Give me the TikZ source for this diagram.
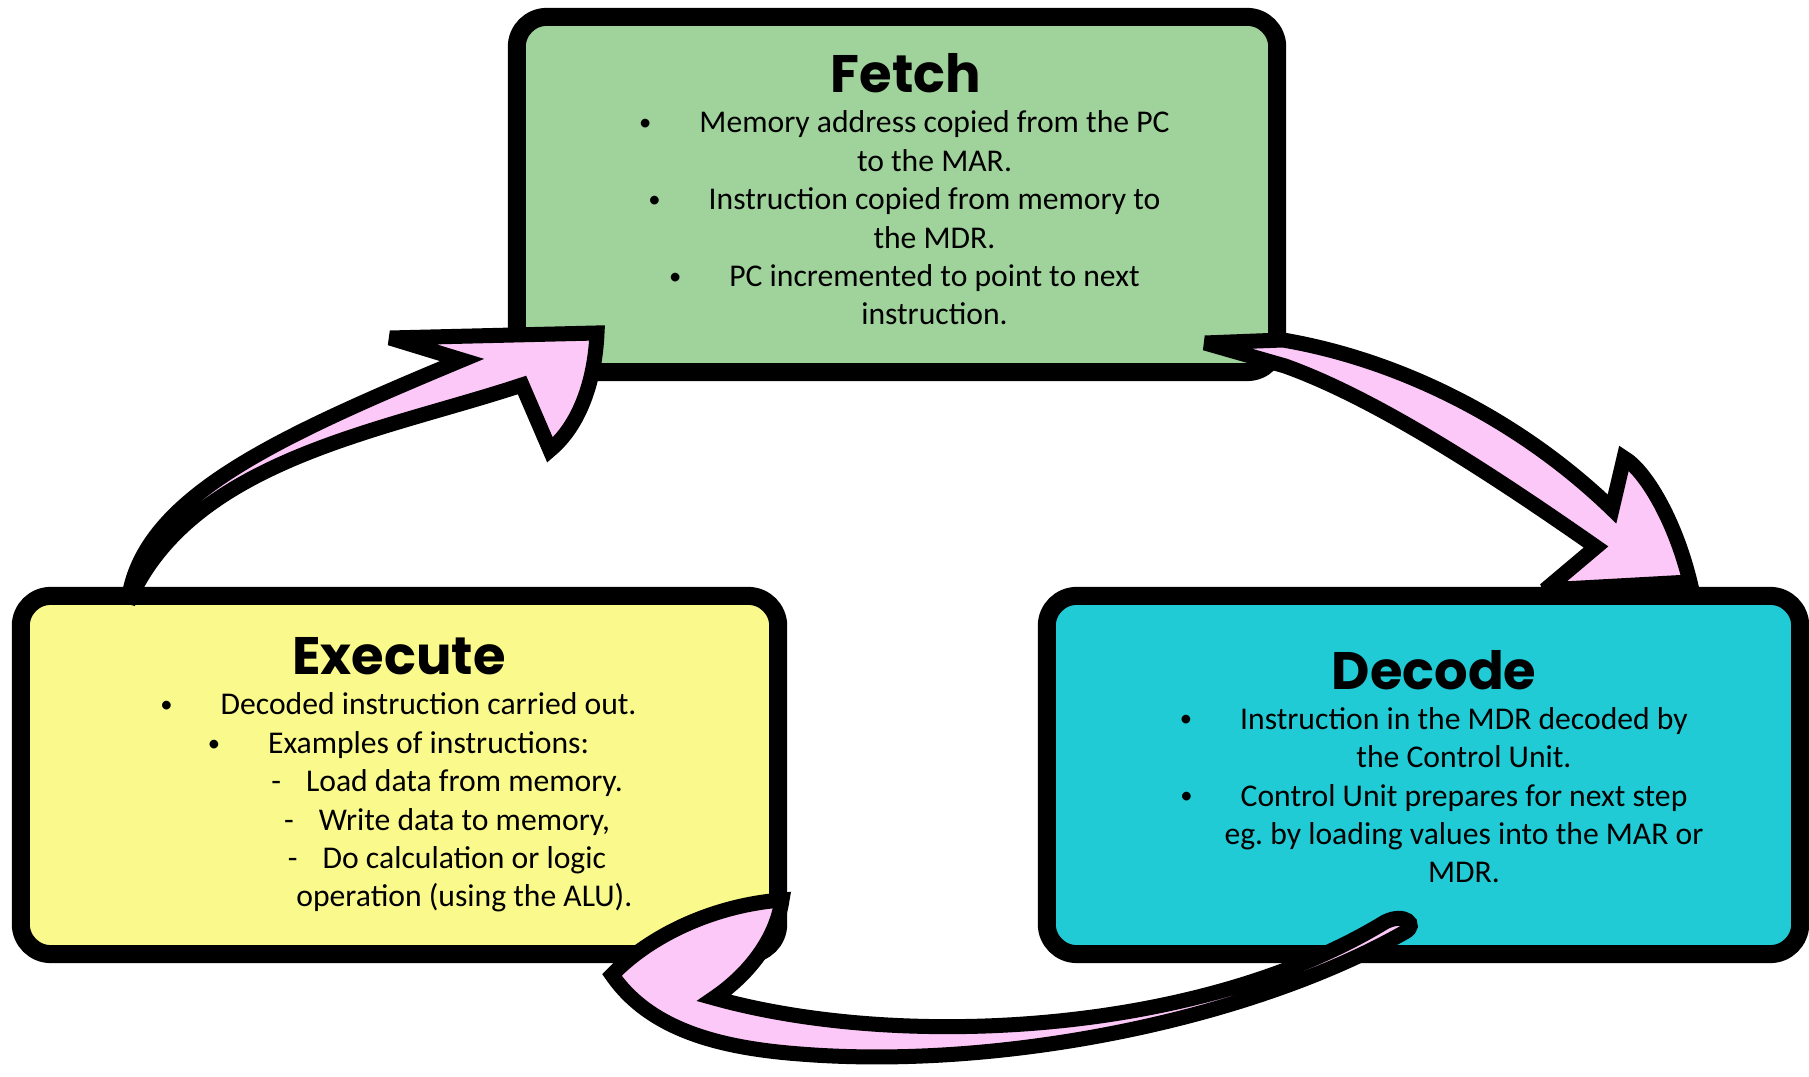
\documentclass[tikz,border=0pt]{standalone}
\usepackage{fontspec}
\setmainfont{Carlito}
\newfontfamily\headfont{Poppins}

\definecolor{fetchgreen}{RGB}{160,210,155}
\definecolor{execyellow}{RGB}{250,249,140}
\definecolor{decodecyan}{RGB}{32,203,213}
\definecolor{arrowpink}{RGB}{252,200,248}

% bullet and dash hanging in front of a centred line
\newcommand{\dotitem}{\llap{\raisebox{0.15ex}{\fontsize{7}{8}\selectfont\textbullet}\hspace{0.48cm}}}
\newcommand{\dashitem}{\llap{-\hspace{0.25cm}}}

\tikzset{
  stage/.style={rectangle,draw=black,line width=0.18cm,rounded corners=0.3cm},
  stagename/.style={anchor=base,inner sep=0pt,font=\headfont\bfseries\fontsize{15}{18}\selectfont},
  % base of a multi-line node is its last line
  stagetext/.style={anchor=base,inner sep=0pt,align=center,font=\fontsize{9}{10.93}\selectfont},
  looparrow/.style={draw=black,fill=arrowpink,line width=0.15cm,miter limit=3}
}

\begin{document}
\begin{tikzpicture}[x=0.01cm,y=-0.01cm]
\useasboundingbox (0,0) rectangle (1809,1077);

% the three stages
\node at (897,194.5)[stage,fill=fetchgreen,minimum width=7.6cm,minimum height=3.55cm](fetch){};
\node at (399.5,775)[stage,fill=execyellow,minimum width=7.57cm,minimum height=3.58cm](exec){};
\node at (1423.5,775)[stage,fill=decodecyan,minimum width=7.53cm,minimum height=3.58cm](decode){};

\node at (906,93)[stagename](fetchname){Fetch};
\node at (399,675)[stagename](execname){Execute};
\node at (1434,690)[stagename](decodename){Decode};

\node at (934.5,325)[stagetext](fetchtext){\dotitem Memory address copied from the PC\\
  to the MAR.\\
  \dotitem Instruction copied from memory to\\
  the MDR.\\
  \dotitem PC incremented to point to next\\
  instruction.};
\node at (428.6,753.4)[stagetext](exectext){\dotitem Decoded instruction carried out.\\
  \dotitem Examples of instructions:};
\node at (464.4,907)[stagetext](execlist){\dashitem Load data from memory.\\
  \dashitem Write data to memory,\\
  \dashitem Do calculation or logic\\
  operation (using the ALU).};
\node at (1464,883)[stagetext](decodetext){\dotitem Instruction in the MDR decoded by\\
  the Control Unit.\\
  \dotitem Control Unit prepares for next step\\
  eg.\ by loading values into the MAR or\\
  MDR.};

% arrows between the stages
\coordinate (exectail) at (128,603);
\coordinate (fetchtip) at (597,333);
\filldraw[looparrow] (exectail) .. controls (140,500) and (270,440) .. (462,360)
  -- (390,338) -- (fetchtip) .. controls (595,380) and (580,425) .. (550,450)
  -- (522,385) .. controls (380,432) and (190,460) .. (exectail) -- cycle;

\coordinate (fetchtail) at (1205,343);
\coordinate (decodetip) at (1690,582);
\filldraw[looparrow] (fetchtail) -- (1283,340) .. controls (1400,360) and (1520,420) .. (1612,509)
  -- (1624,458) .. controls (1645,470) and (1675,520) .. (decodetip)
  -- (1545,590) -- (1596,547) .. controls (1500,480) and (1380,400) .. (1285,366) -- cycle;

\coordinate (decodetail) at (1385,922);
\coordinate (exectip) at (782,900);
\filldraw[looparrow] (exectip) .. controls (776,940) and (748,975) .. (714,998)
  .. controls (900,1050) and (1200,1035) .. (decodetail)
  .. controls (1405,912) and (1418,925) .. (1405,932)
  .. controls (1250,1020) and (1000,1070) .. (800,1054)
  .. controls (720,1048) and (650,1030) .. (612,975)
  .. controls (650,935) and (715,905) .. (exectip) -- cycle;
\end{tikzpicture}
\end{document}
